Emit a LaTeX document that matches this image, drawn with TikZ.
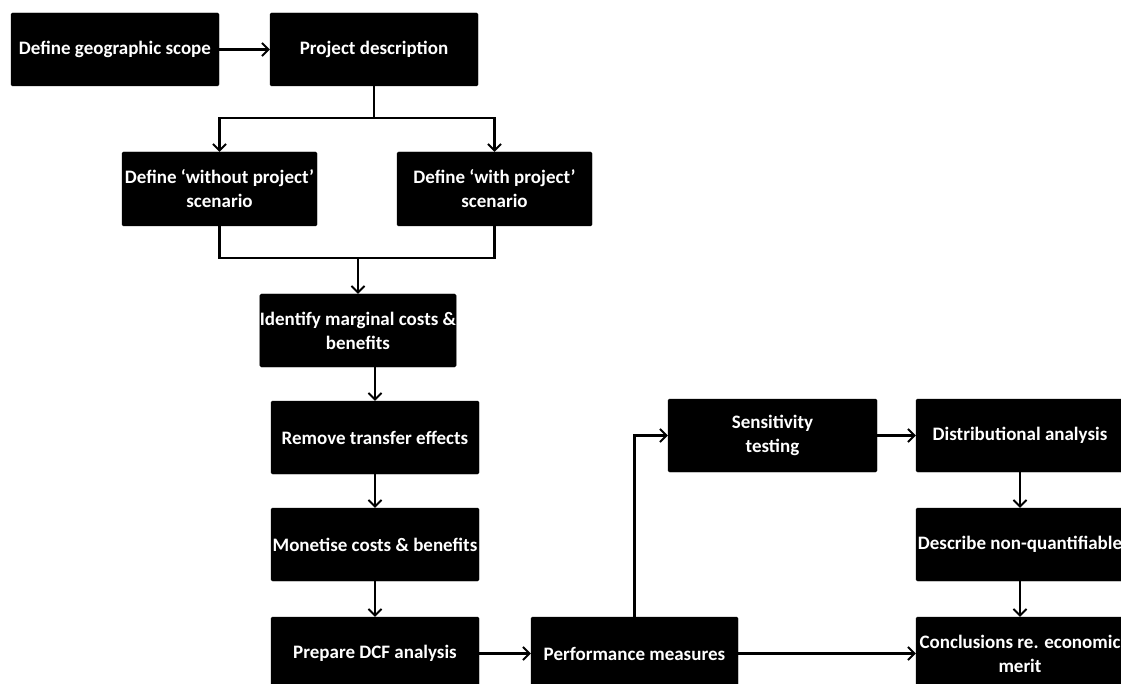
\documentclass[tikz,border=0pt]{standalone}
\usepackage{fontspec}
\setmainfont{Carlito}
\usetikzlibrary{arrows.meta}
\begin{document}
\begin{tikzpicture}[x=1pt,y=-1pt,
  box/.style={fill=black, draw=black, rounded corners=1.5pt, text=white,
    font=\bfseries\fontsize{19}{24}\selectfont, align=center,
    inner sep=0pt, minimum height=73pt},
  conn/.style={draw=black, line width=2.2pt},
  arr/.style={conn, -{Straight Barb[length=6.5pt,width=13pt,line width=1.9pt]}}]
\useasboundingbox (0,0) rectangle (1121,684);
\node[box, minimum width=208pt] (b1) at (115,49.5) {Define geographic scope};
\node[box, minimum width=208pt] (b2) at (374,49.5) {Project description};
\node[box, minimum width=195pt, minimum height=74pt] (b3) at (219.5,189) {Define ‘without project’\\scenario};
\node[box, minimum width=195pt, minimum height=74pt] (b4) at (494.5,189) {Define ‘with project’\\scenario};
\node[box, minimum width=194pt] (b5) at (358,330.5) {Identify marginal costs \&\\benefits};
\node[box, minimum width=208pt] (b6) at (375,437.5) {Remove transfer effects};
\node[box, minimum width=208pt] (b7) at (375,544.5) {Monetise costs \& benefits};
\node[box, minimum width=208pt] (b8) at (375,653.5) {Prepare DCF analysis};
\node[box, minimum width=207pt] (b9) at (634.5,653.5) {Performance measures};
\node[box, minimum width=209pt] (b10) at (772.5,435.5) {Sensitivity\\testing};
\node[box, minimum width=208pt] (b11) at (1020,435.5) {Distributional analysis};
\node[box, minimum width=208pt] (b12) at (1020,544.5) {Describe non-quantifiable};
\node[box, minimum width=208pt] (b13) at (1020,653.5) {Conclusions re. economic\\merit};
\coordinate (split) at (374,118);
\coordinate (merge) at (358,258);
\draw[arr] (b1) -- (b2);
\draw[conn] (b2.south) -- (split);
\draw[arr] (split) -| (b3.north);
\draw[arr] (split) -| (b4.north);
\draw[conn] (b3.south) |- (merge);
\draw[conn] (b4.south) |- (merge);
\draw[arr] (merge) -- (b5.north);
\draw[arr] (b6.north |- b5.south) -- (b6.north);
\draw[arr] (b6) -- (b7);
\draw[arr] (b7) -- (b8);
\draw[arr] (b8) -- (b9);
\draw[arr] (b9.north) |- (b10.west);
\draw[arr] (b10) -- (b11);
\draw[arr] (b11) -- (b12);
\draw[arr] (b12) -- (b13);
\draw[arr] (b9) -- (b13);
\end{tikzpicture}
\end{document}
